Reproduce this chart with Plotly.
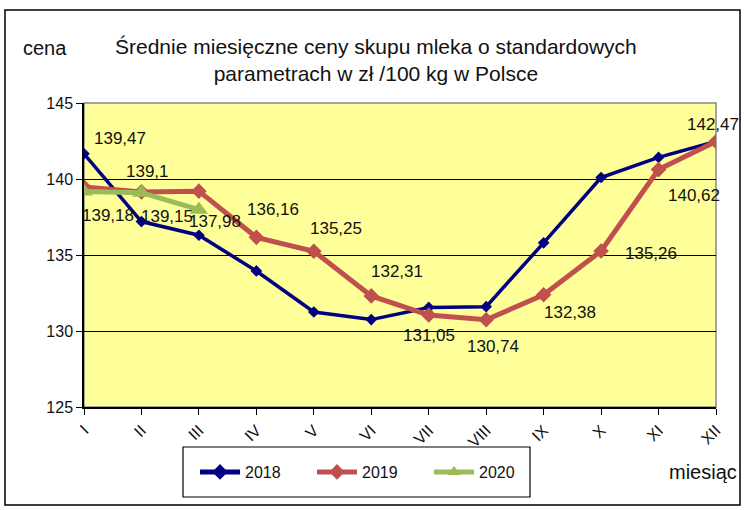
import plotly.graph_objects as go

months = ["I", "II", "III", "IV", "V", "VI", "VII", "VIII", "IX", "X", "XI", "XII"]
s2018 = [141.66, 137.2, 136.3, 133.95, 131.25, 130.75, 131.55, 131.6, 135.8, 140.1, 141.42, 142.47]
s2019 = [139.47, 139.15, 139.2, 136.16, 135.25, 132.31, 131.05, 130.74, 132.38, 135.26, 140.62, 142.47]
s2020 = [139.18, 139.1, 137.98]
yticks = [125, 130, 135, 140, 145]

# label placement offsets (pixels) for data labels: (series, index, dx, dy)
label_offsets = [
    ("2019", 0, 36, 49), ("2020", 0, 24, -24),
    ("2020", 1, 6, 21), ("2019", 1, 26, -25),
    ("2020", 2, 16, -12), ("2019", 3, 17, 28),
    ("2019", 4, 22, 23), ("2019", 5, 26, 24),
    ("2019", 6, 0, -20), ("2019", 7, 7, -27),
    ("2019", 8, 26, -18), ("2019", 9, 50, -2),
    ("2019", 10, 35, -26), ("2019", 11, -3, 17),
]
series = {"2018": s2018, "2019": s2019, "2020": s2020}

xs = list(range(1, 13))
FONT = "Liberation Sans, Arial, sans-serif"

fig = go.Figure()
fig.add_trace(go.Scatter(x=xs, y=s2018, name="2018", mode="lines+markers",
                         line=dict(color="#000080", width=3.5),
                         marker=dict(symbol="diamond", size=9, color="#000080")))
fig.add_trace(go.Scatter(x=xs, y=s2019, name="2019", mode="lines+markers",
                         line=dict(color="#C0504D", width=5),
                         marker=dict(symbol="diamond", size=12, color="#C0504D")))
fig.add_trace(go.Scatter(x=xs[:len(s2020)], y=s2020, name="2020", mode="lines+markers",
                         line=dict(color="#9BBB59", width=5),
                         marker=dict(symbol="triangle-up", size=16, color="#9BBB59")))

annotations = []
for name, i, dx, dy in label_offsets:
    v = series[name][i]
    annotations.append(dict(x=xs[i], y=v, xref="x", yref="y",
                            text=f"{v:g}".replace(".", ","), showarrow=False,
                            xshift=dx, yshift=dy,
                            font=dict(family=FONT, size=17, color="#111111")))

annotations += [
    dict(text="Średnie miesięczne ceny skupu mleka o standardowych<br>parametrach w zł /100 kg w Polsce",
         x=(376 - 84) / 632, y=(407 - 60) / 304, xref="paper", yref="paper",
         showarrow=False, xanchor="center", yanchor="middle", align="center",
         font=dict(family=FONT, size=21, color="#111111")),
    dict(text="cena", x=(45 - 84) / 632, y=(407 - 48) / 304, xref="paper", yref="paper",
         showarrow=False, xanchor="center", yanchor="middle",
         font=dict(family=FONT, size=20, color="#111111")),
    dict(text="miesiąc", x=(703 - 84) / 632, y=(407 - 472) / 304, xref="paper", yref="paper",
         showarrow=False, xanchor="center", yanchor="middle",
         font=dict(family=FONT, size=20, color="#111111")),
]

shapes = [
    # outer chart border
    dict(type="rect", xref="paper", yref="paper",
         x0=(5 - 84) / 632, x1=(740 - 84) / 632, y0=(407 - 505) / 304, y1=(407 - 10) / 304,
         line=dict(color="black", width=1.5), fillcolor="rgba(0,0,0,0)", layer="below"),
    # legend box
    dict(type="rect", xref="paper", yref="paper",
         x0=(183 - 84) / 632, x1=(530 - 84) / 632, y0=(407 - 497) / 304, y1=(407 - 447) / 304,
         line=dict(color="black", width=1.2), fillcolor="rgba(0,0,0,0)"),
    # plot frame in gray
    dict(type="rect", xref="paper", yref="paper", x0=0, x1=1, y0=0, y1=1,
         line=dict(color="#888888", width=1.5), fillcolor="rgba(0,0,0,0)", layer="below"),
]

fig.update_layout(
    width=744, height=510,
    margin=dict(l=84, r=28, t=103, b=103),
    paper_bgcolor="white", plot_bgcolor="#FFFF99",
    font=dict(family=FONT, size=16, color="#111111"),
    showlegend=True,
    legend=dict(orientation="h", x=(195 - 84) / 632, y=(407 - 472) / 304,
                xanchor="left", yanchor="middle", bgcolor="rgba(0,0,0,0)",
                font=dict(family=FONT, size=16), entrywidth=62, itemwidth=40,
                itemsizing="constant"),
    annotations=annotations, shapes=shapes,
    xaxis=dict(range=[1, 12], tickvals=xs, ticktext=months, tickangle=-45,
               showgrid=False, zeroline=False, showline=True, linecolor="black", linewidth=1.5,
               ticks="outside", ticklen=6, tickcolor="black", tickfont=dict(size=16)),
    yaxis=dict(range=[125, 145], tickvals=yticks, showgrid=True, gridcolor="black", gridwidth=1,
               zeroline=False, showline=True, linecolor="black", linewidth=1.5,
               ticks="outside", ticklen=6, tickcolor="black", tickfont=dict(size=16)),
)

fig.write_html("out.html", config={"displayModeBar": False},
               post_script="document.body.style.margin='0px';")
